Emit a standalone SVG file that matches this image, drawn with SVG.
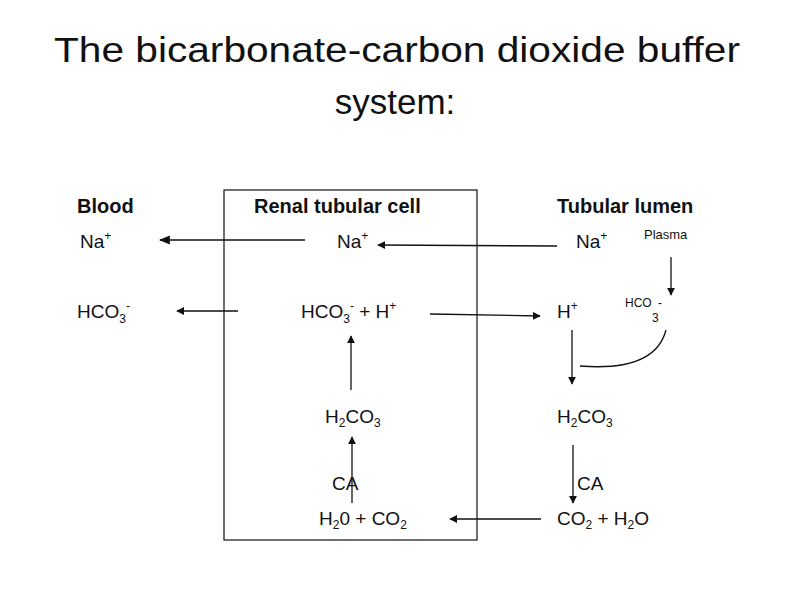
<svg xmlns="http://www.w3.org/2000/svg" width="794" height="595" viewBox="0 0 794 595">
<style>
text{font-family:"Liberation Sans","Open Sans",sans-serif;fill:#111}
.t{font-size:35px}
.h{font-size:20px;font-weight:bold}
.l{font-size:19px}
.s{font-size:12px}
.c{stroke:#111;stroke-width:1.3;fill:none}
</style>
<defs><marker id="a" viewBox="0 0 10 10" refX="9" refY="5" markerWidth="8" markerHeight="8" orient="auto" markerUnits="userSpaceOnUse"><path d="M0,0L10,5L0,10z" fill="#111"/></marker>
<marker id="b" viewBox="0 0 10 10" refX="9" refY="5" markerWidth="11" markerHeight="11" orient="auto" markerUnits="userSpaceOnUse"><path d="M0,1L10,5L0,9z" fill="#111"/></marker></defs>
<rect width="794" height="595" fill="#fff"/>
<g id="title"><text class="t" x="397" y="62" text-anchor="middle" textLength="686" lengthAdjust="spacingAndGlyphs">The bicarbonate-carbon dioxide buffer</text><text class="t" x="395" y="114" text-anchor="middle">system:</text></g>
<g id="cell"><rect x="224" y="190" width="253" height="350" fill="none" stroke="#111" stroke-width="1.2"/></g>
<g id="blood"><text class="h" x="77" y="213">Blood</text><text class="l" x="80" y="248">Na<tspan class="s" dy="-8">+</tspan></text><text class="l" x="77" y="318">HCO<tspan class="s" dy="5">3</tspan><tspan class="s" dy="-13">-</tspan></text></g>
<g id="renal"><text class="h" x="254" y="213">Renal tubular cell</text><text class="l" x="337" y="248">Na<tspan class="s" dy="-8">+</tspan></text><text class="l" x="301" y="318">HCO<tspan class="s" dy="5">3</tspan><tspan class="s" dy="-13">-</tspan><tspan dy="8"> + H</tspan><tspan class="s" dy="-8">+</tspan></text><text class="l" x="325" y="423">H<tspan class="s" dy="4">2</tspan><tspan dy="-4">CO</tspan><tspan class="s" dy="4">3</tspan></text><text class="l" x="332" y="490">CA</text><text class="l" x="319" y="525">H<tspan class="s" dy="4">2</tspan><tspan dy="-4">0 +  CO</tspan><tspan class="s" dy="4">2</tspan></text></g>
<g id="lumen"><text class="h" x="557" y="213">Tubular lumen</text><text class="l" x="576" y="248">Na<tspan class="s" dy="-8">+</tspan></text><text x="644" y="239" font-size="13">Plasma</text><text class="l" x="557" y="318">H<tspan class="s" dy="-8">+</tspan></text><text x="625" y="307" font-size="12">HCO</text><text x="658" y="307" font-size="12">-</text><text x="652" y="322" font-size="12">3</text><text class="l" x="557" y="423">H<tspan class="s" dy="4">2</tspan><tspan dy="-4">CO</tspan><tspan class="s" dy="4">3</tspan></text><text class="l" x="577" y="490">CA</text><text class="l" x="557" y="525">CO<tspan class="s" dy="4">2</tspan><tspan dy="-4"> + H</tspan><tspan class="s" dy="4">2</tspan><tspan dy="-4">O</tspan></text></g>
<g id="connectors">
<line class="c" x1="305" y1="240" x2="160" y2="240" stroke-width="2" marker-end="url(#b)"/>
<line class="c" x1="557" y1="246" x2="378" y2="245" marker-end="url(#a)"/>
<line class="c" x1="238" y1="311" x2="177" y2="311" marker-end="url(#a)"/>
<line class="c" x1="430" y1="314" x2="540" y2="316" marker-end="url(#a)"/>
<line class="c" x1="351" y1="390" x2="351" y2="336" marker-end="url(#a)"/>
<line class="c" x1="352" y1="503" x2="352" y2="437" marker-end="url(#a)"/>
<line class="c" x1="572" y1="330" x2="572" y2="384" marker-end="url(#a)"/>
<line class="c" x1="671" y1="257" x2="671" y2="295" marker-end="url(#a)"/>
<path class="c" d="M666,330Q655,372 580,366"/>
<line class="c" x1="573" y1="445" x2="573" y2="503" marker-end="url(#a)"/>
<line class="c" x1="541" y1="519" x2="450" y2="519" marker-end="url(#a)"/>
</g>
</svg>
